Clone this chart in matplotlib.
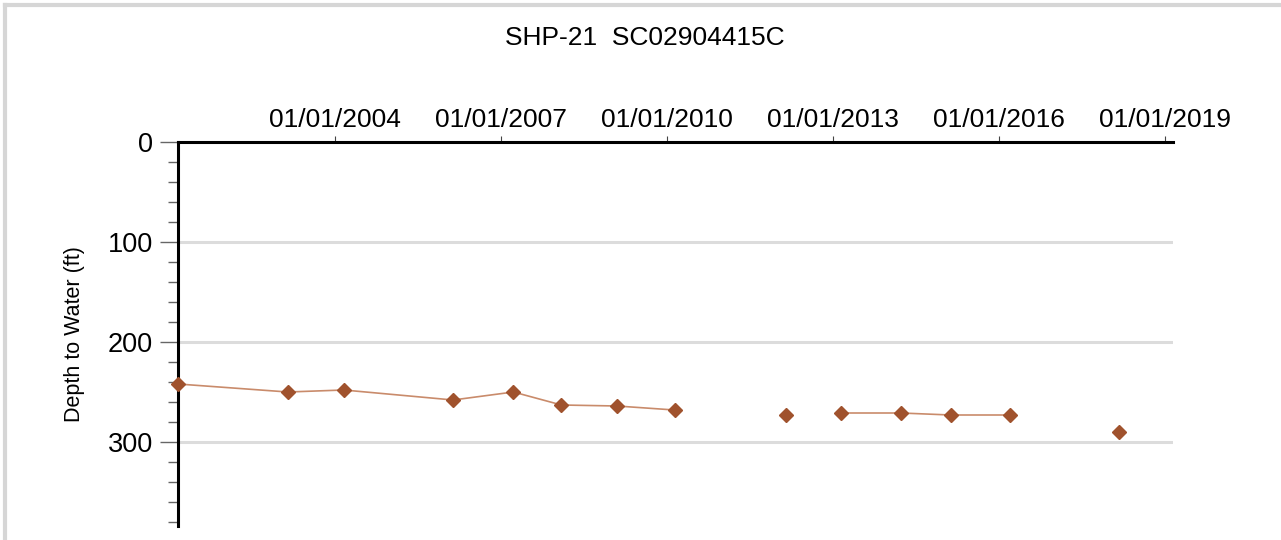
import matplotlib
matplotlib.use('Agg')
import matplotlib.pyplot as plt
import matplotlib.dates as mdates
import numpy as np
from matplotlib.lines import Line2D
from matplotlib.ticker import MultipleLocator

# measurement dates and depth to water (ft); None breaks the line
dates = ['2001-03-03', '2003-02-25', '2004-03-01', '2006-02-20',
         '2007-03-25', '2008-02-05', '2009-02-05', '2010-02-20',
         None,
         '2012-02-25',
         None,
         '2013-02-25', '2014-03-25', '2015-02-15', '2016-03-15',
         None,
         '2018-03-01']
depths = [242, 250, 248, 258, 250, 263, 264, 268,
          None,
          273,
          None,
          271, 271, 273, 273,
          None,
          290]
tick_years = [2004, 2007, 2010, 2013, 2016, 2019]
title = 'SHP-21  SC02904415C'
ylabel = 'Depth to Water (ft)'

plt.rcParams['font.family'] = ['Liberation Sans', 'DejaVu Sans']

x = np.array([np.datetime64(d) if d else np.datetime64('NaT') for d in dates],
             dtype='datetime64[D]')
y = np.array([np.nan if v is None else v for v in depths], dtype=float)

fig = plt.figure(figsize=(12.81, 5.40), dpi=100)
ax = fig.add_axes([178 / 1281, 1 - 526 / 540, (1173 - 178) / 1281, (526 - 142) / 540])

line_color = '#c98b6b'
marker_color = '#a0522d'

# connected segments
ax.plot(x, y, color=line_color, lw=1.2, zorder=3)
ax.plot(x, y, ls='none', marker='D', ms=7, color=marker_color,
        mec=marker_color, zorder=4, clip_on=False)

ax.set_ylim(384, 0)
ax.set_xlim(np.datetime64('2001-03-03'), np.datetime64('2019-02-22'))

ax.yaxis.set_major_locator(MultipleLocator(100))
ax.yaxis.set_minor_locator(MultipleLocator(20))
ax.set_xticks([np.datetime64('%d-01-01' % yr) for yr in tick_years])
ax.xaxis.set_major_formatter(mdates.DateFormatter('%m/%d/%Y'))
ax.xaxis.tick_top()

ax.tick_params(axis='x', which='major', length=4, width=0.8, color='#444444',
               labelsize=19, pad=3, direction='out')
ax.tick_params(axis='y', which='major', length=13, width=1.0, color='#666666',
               labelsize=19.5, pad=5, direction='out')
ax.tick_params(axis='y', which='minor', length=7, width=1.0, color='#666666',
               direction='out')

for yy in [100, 200, 300]:
    ax.axhline(yy, color='#dcdcdc', lw=2.2, zorder=1)

for side in ['right', 'bottom']:
    ax.spines[side].set_visible(False)
for side in ['top', 'left']:
    ax.spines[side].set_linewidth(2.2)
    ax.spines[side].set_color('black')

ax.set_ylabel(ylabel, fontsize=15.5)
ax.yaxis.set_label_coords((85 - 178) / 995, (526 - 334) / 384)

fig.text(645 / 1281, 1 - 38 / 540, title, ha='center', va='center', fontsize=19)

# light panel border along top and left
fig.add_artist(Line2D([5 / 1281, 1], [1 - 5 / 540, 1 - 5 / 540],
                      transform=fig.transFigure, color='#d6d6d6', lw=3))
fig.add_artist(Line2D([5 / 1281, 5 / 1281], [0, 1 - 5 / 540],
                      transform=fig.transFigure, color='#d6d6d6', lw=3))

fig.savefig('out.png', dpi=100)
